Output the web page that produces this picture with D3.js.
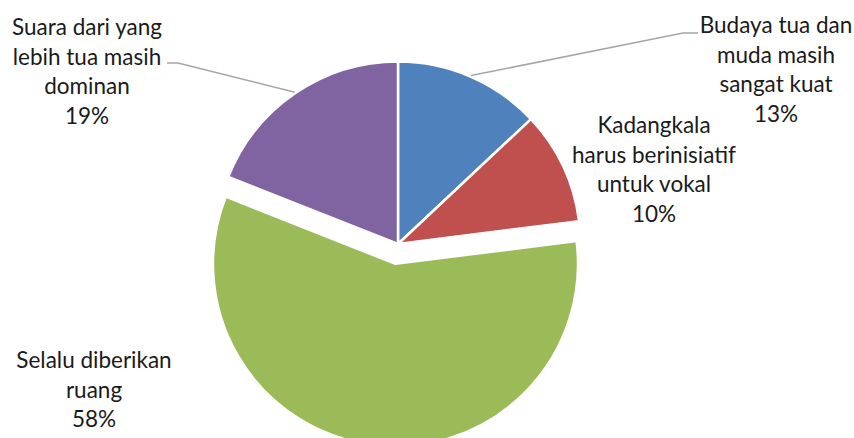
<!DOCTYPE html>
<html>
<head>
<meta charset="utf-8">
<script src="https://cdn.jsdelivr.net/npm/d3@7"></script>
<style>
  html, body { margin: 0; padding: 0; background: #ffffff; }
  svg { display: block; }
</style>
</head>
<body>
<div id="chart"></div>
<script>
// data
var categories = [
    "Budaya tua dan muda masih sangat kuat",
    "Kadangkala harus berinisiatif untuk vokal",
    "Selalu diberikan ruang",
    "Suara dari yang lebih tua masih dominan"
];
var labelLines = [
    ["Budaya tua dan", "muda masih", "sangat kuat"],
    ["Kadangkala", "harus berinisiatif", "untuk vokal"],
    ["Selalu diberikan", "ruang"],
    ["Suara dari yang", "lebih tua masih", "dominan"]
];
var values = [13, 10, 58, 19];
var colors = ["#4f81bd", "#c0504d", "#9bbb59", "#8064a2"];

// layout
var width = 854, height = 438;
var cx = 398, cy = 244, radius = 182.5;
var explode = [0, 0, 20, 0];
// label block: center x, first baseline, leader: [x start, x of horizontal end, y]
var labelPos = [
    { x: 776, y: 33, leader: [698, 683, 33] },
    { x: 654, y: 133, leader: null },
    { x: 94, y: 368, leader: null },
    { x: 87, y: 35, leader: [167, 178, 63] }
];
var lineHeight = 29.5;

var svg = d3.select("#chart").append("svg")
    .attr("width", width)
    .attr("height", height);

var main = svg.append("g")
    .attr("transform", `translate(${cx},${cy})`);

var pie = d3.pie().sort(null).value(d => d)(values);
var arc = d3.arc().innerRadius(0).outerRadius(radius);
var edgeArc = d3.arc().innerRadius(radius + 1).outerRadius(radius + 1);

main.selectAll("path.slice")
    .data(pie)
    .enter()
    .append("path")
    .attr("class", "slice")
    .attr("transform", (d, i) => {
        var mid = (d.startAngle + d.endAngle) / 2;
        return `translate(${Math.sin(mid) * explode[i]},${-Math.cos(mid) * explode[i]})`;
    })
    .attr("d", arc)
    .attr("fill", (d, i) => colors[i])
    .attr("stroke", "#ffffff")
    .attr("stroke-width", 2.5)
    .attr("stroke-linejoin", "round");

// leader lines
pie.forEach((d, i) => {
    var lp = labelPos[i].leader;
    if (!lp) return;
    var c = edgeArc.centroid(d);
    svg.append("polyline")
        .attr("points", `${lp[0]},${lp[2]} ${lp[1]},${lp[2]} ${cx + c[0]},${cy + c[1]}`)
        .attr("fill", "none")
        .attr("stroke", "#a6a6a6")
        .attr("stroke-width", 1.5);
});

// labels
var labels = svg.append("g")
    .attr("font-family", "Lato, 'Noto Sans', sans-serif")
    .attr("font-size", "22.5px")
    .attr("fill", "#1a1a1a")
    .attr("text-anchor", "middle");

values.forEach((v, i) => {
    var lines = labelLines[i].concat([v + "%"]);
    var t = labels.append("text")
        .attr("x", labelPos[i].x)
        .attr("y", labelPos[i].y);
    lines.forEach((s, k) => {
        t.append("tspan")
            .attr("x", labelPos[i].x)
            .attr("dy", k == 0 ? 0 : lineHeight)
            .text(s);
    });
});
</script>
</body>
</html>
